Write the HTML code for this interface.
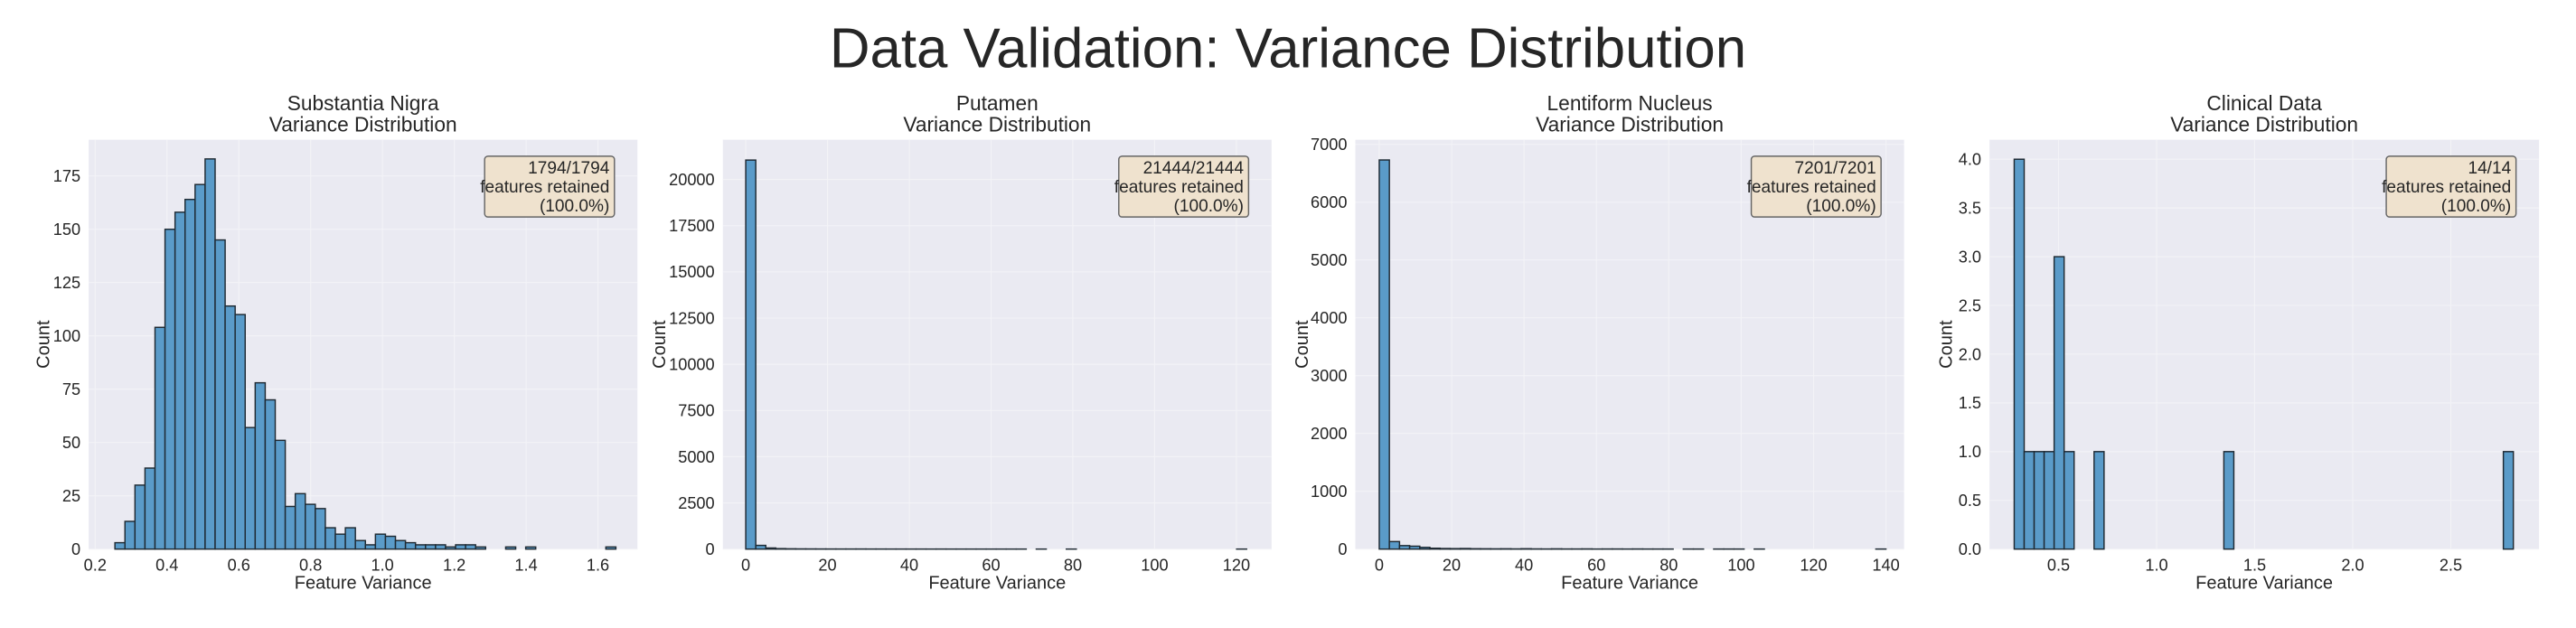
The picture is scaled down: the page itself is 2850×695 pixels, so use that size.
<!DOCTYPE html>
<html><head><meta charset="utf-8"><style>
html,body{margin:0;padding:0;background:#fff;}
svg{display:block;font-family:"Liberation Sans",sans-serif;}
</style></head><body>
<svg id="fig" width="2850" height="695" viewBox="0 0 1568 382" preserveAspectRatio="none">
<text x="784" y="41" text-anchor="middle" font-size="34" fill="#262626">Data Validation: Variance Distribution</text>
</svg>
<script>
// Panel 1: Substantia Nigra
const snCounts=[3,13,30,38,104,150,158,164,171,183,145,114,110,57,78,70,51,20,26,21,19,10,7,10,4,2,7,6,4,3,2,2,2,1,2,2,1,0,0,1,0,1,0,0,0,0,0,0,0,1];
const snBinStart=[0.255];const snBinWidth=[0.0279];
const snXTicks=[0.2,0.4,0.6,0.8,1.0,1.2,1.4,1.6];
const snYTicks=[0,25,50,75,100,125,150,175];
// Panel 2: Putamen
const puCounts=[21050,200,60,25,15,10,8,6,5,4,4,5,3,3,2,2,2,2,1,2,1,1,1,1,1,1,1,1,0,1,0,0,1,0,0,0,0,0,0,0,0,0,0,0,0,0,0,0,0,1];
const puBinStart=[0.0];const puBinWidth=[2.45];
const puXTicks=[0,20,40,60,80,100,120];
const puYTicks=[0,2500,5000,7500,10000,12500,15000,17500,20000];
// Panel 3: Lentiform Nucleus
const lnCounts=[6730,130,60,50,30,15,10,8,10,6,5,4,5,3,6,3,2,4,2,2,3,1,2,2,1,2,1,1,1,0,1,1,0,1,1,1,0,1,0,0,0,0,0,0,0,0,0,0,0,1];
const lnBinStart=[0.0];const lnBinWidth=[2.8];
const lnXTicks=[0,20,40,60,80,100,120,140];
const lnYTicks=[0,1000,2000,3000,4000,5000,6000,7000];
// Panel 4: Clinical Data
const clCounts=[4,1,1,1,3,1,0,0,1,0,0,0,0,0,0,0,0,0,0,0,0,1,0,0,0,0,0,0,0,0,0,0,0,0,0,0,0,0,0,0,0,0,0,0,0,0,0,0,0,1];
const clBinStart=[0.274];const clBinWidth=[0.0509];
const clXTicks=[0.5,1.0,1.5,2.0,2.5];
const clYTicks=[0,0.5,1.0,1.5,2.0,2.5,3.0,3.5,4.0];
const clYLabels=["0.0","0.5","1.0","1.5","2.0","2.5","3.0","3.5","4.0"];

const NS="http://www.w3.org/2000/svg";
const fig=document.getElementById('fig');
function mk(tag,attrs,parent){const e=document.createElementNS(NS,tag);for(const k in attrs)e.setAttribute(k,attrs[k]);(parent||fig).appendChild(e);return e;}

function panel(p){
  const g=mk('g',{});
  
  
  const xmin=p.xmin,xmax=p.xmax;
  const ymax=p.ymax;
  const X=v=>p.x0+(v-xmin)/(xmax-xmin)*(p.x1-p.x0);
  const Y=v=>p.y1-v/ymax*(p.y1-p.y0);
  const bg=mk('rect',{x:p.x0,y:p.y0,width:p.x1-p.x0,height:p.y1-p.y0,fill:'#eaeaf2'},g);
  
  
  p.xticks.forEach((t,i)=>{
    const x=X(t);
    const gl=mk('line',{x1:x,x2:x,y1:p.y0,y2:p.y1,stroke:'#f3f3f7','stroke-width':0.6},g);
    
    
    const tx=mk('text',{x:x,y:p.y1+13,'text-anchor':'middle','font-size':10,fill:'#262626'},g);
    tx.textContent=p.xdec!==undefined?t.toFixed(p.xdec):String(t);
    
    
  });
  p.yticks.forEach((t,i)=>{
    const y=Y(t);
    const gl=mk('line',{x1:p.x0,x2:p.x1,y1:y,y2:y,stroke:'#f3f3f7','stroke-width':0.6},g);
    
    
    const tx=mk('text',{x:p.x0-5,y:y+3.5,'text-anchor':'end','font-size':10,fill:'#262626'},g);
    tx.textContent=p.ylabels?p.ylabels[i]:String(t);
    
    
  });
  const bw=p.bw[0],bs=p.bs[0];
  p.counts.forEach((c,i)=>{
    const xa=X(bs+i*bw),xb=X(bs+(i+1)*bw);
    const r=mk('rect',{x:xa,y:Y(c),width:Math.max(xb-xa,0.1),height:Y(0)-Y(c),fill:'#5a9bc9',stroke:c>0?'#1f2a33':'#9a9aa0','stroke-width':0.8},g);
    
    
  });
  const t1=mk('text',{x:(p.x0+p.x1)/2,y:p.y0-18,'text-anchor':'middle','font-size':12.5,fill:'#262626'},g);
  t1.textContent=p.title;
  
  
  const t2=mk('text',{x:(p.x0+p.x1)/2,y:p.y0-5,'text-anchor':'middle','font-size':12.5,fill:'#262626'},g);
  t2.textContent='Variance Distribution';
  
  
  const xl=mk('text',{x:(p.x0+p.x1)/2,y:p.y1+24,'text-anchor':'middle','font-size':11,fill:'#262626'},g);
  xl.textContent='Feature Variance';
  
  
  const yx=p.ylabx,yy=(p.y0+p.y1)/2;
  const yl=mk('text',{x:yx,y:yy,'text-anchor':'middle','font-size':11,fill:'#262626',transform:`rotate(-90 ${yx} ${yy})`},g);
  yl.textContent='Count';
  
  
  const bx1=p.x1-14,bx0=bx1-p.boxw;
  const box=mk('rect',{x:bx0,y:95,width:p.boxw,height:37,rx:2,fill:'#efe2ce',stroke:'#666','stroke-width':0.8},g);
  
  
  [p.ann,'features retained','(100.0%)'].forEach((s,i)=>{
    const t=mk('text',{x:bx1-3,y:105.5+i*11.5,'text-anchor':'end','font-size':10.5,fill:'#262626'},g);
    t.textContent=s;
    
    
  });
}

panel({id:'substantia-nigra',title:'Substantia Nigra',counts:snCounts,bs:snBinStart,bw:snBinWidth,xticks:snXTicks,yticks:snYTicks,xdec:1,
  x0:54,x1:388,y0:85,y1:334,xmin:0.182,xmax:1.71,ymax:192,ylabx:30,ann:'1794/1794',boxw:79});
panel({id:'putamen',title:'Putamen',counts:puCounts,bs:puBinStart,bw:puBinWidth,xticks:puXTicks,yticks:puYTicks,
  x0:440,x1:774,y0:85,y1:334,xmin:-5.6,xmax:128.6,ymax:22150,ylabx:405,ann:'21444/21444',boxw:79});
panel({id:'lentiform-nucleus',title:'Lentiform Nucleus',counts:lnCounts,bs:lnBinStart,bw:lnBinWidth,xticks:lnXTicks,yticks:lnYTicks,
  x0:825,x1:1159,y0:85,y1:334,xmin:-6.6,xmax:145,ymax:7080,ylabx:796,ann:'7201/7201',boxw:79});
panel({id:'clinical-data',title:'Clinical Data',counts:clCounts,bs:clBinStart,bw:clBinWidth,xticks:clXTicks,yticks:clYTicks,ylabels:clYLabels,xdec:1,
  x0:1211,x1:1545.5,y0:85,y1:334,xmin:0.148,xmax:2.95,ymax:4.2,ylabx:1188,ann:'14/14',boxw:79});
</script>
</body></html>
